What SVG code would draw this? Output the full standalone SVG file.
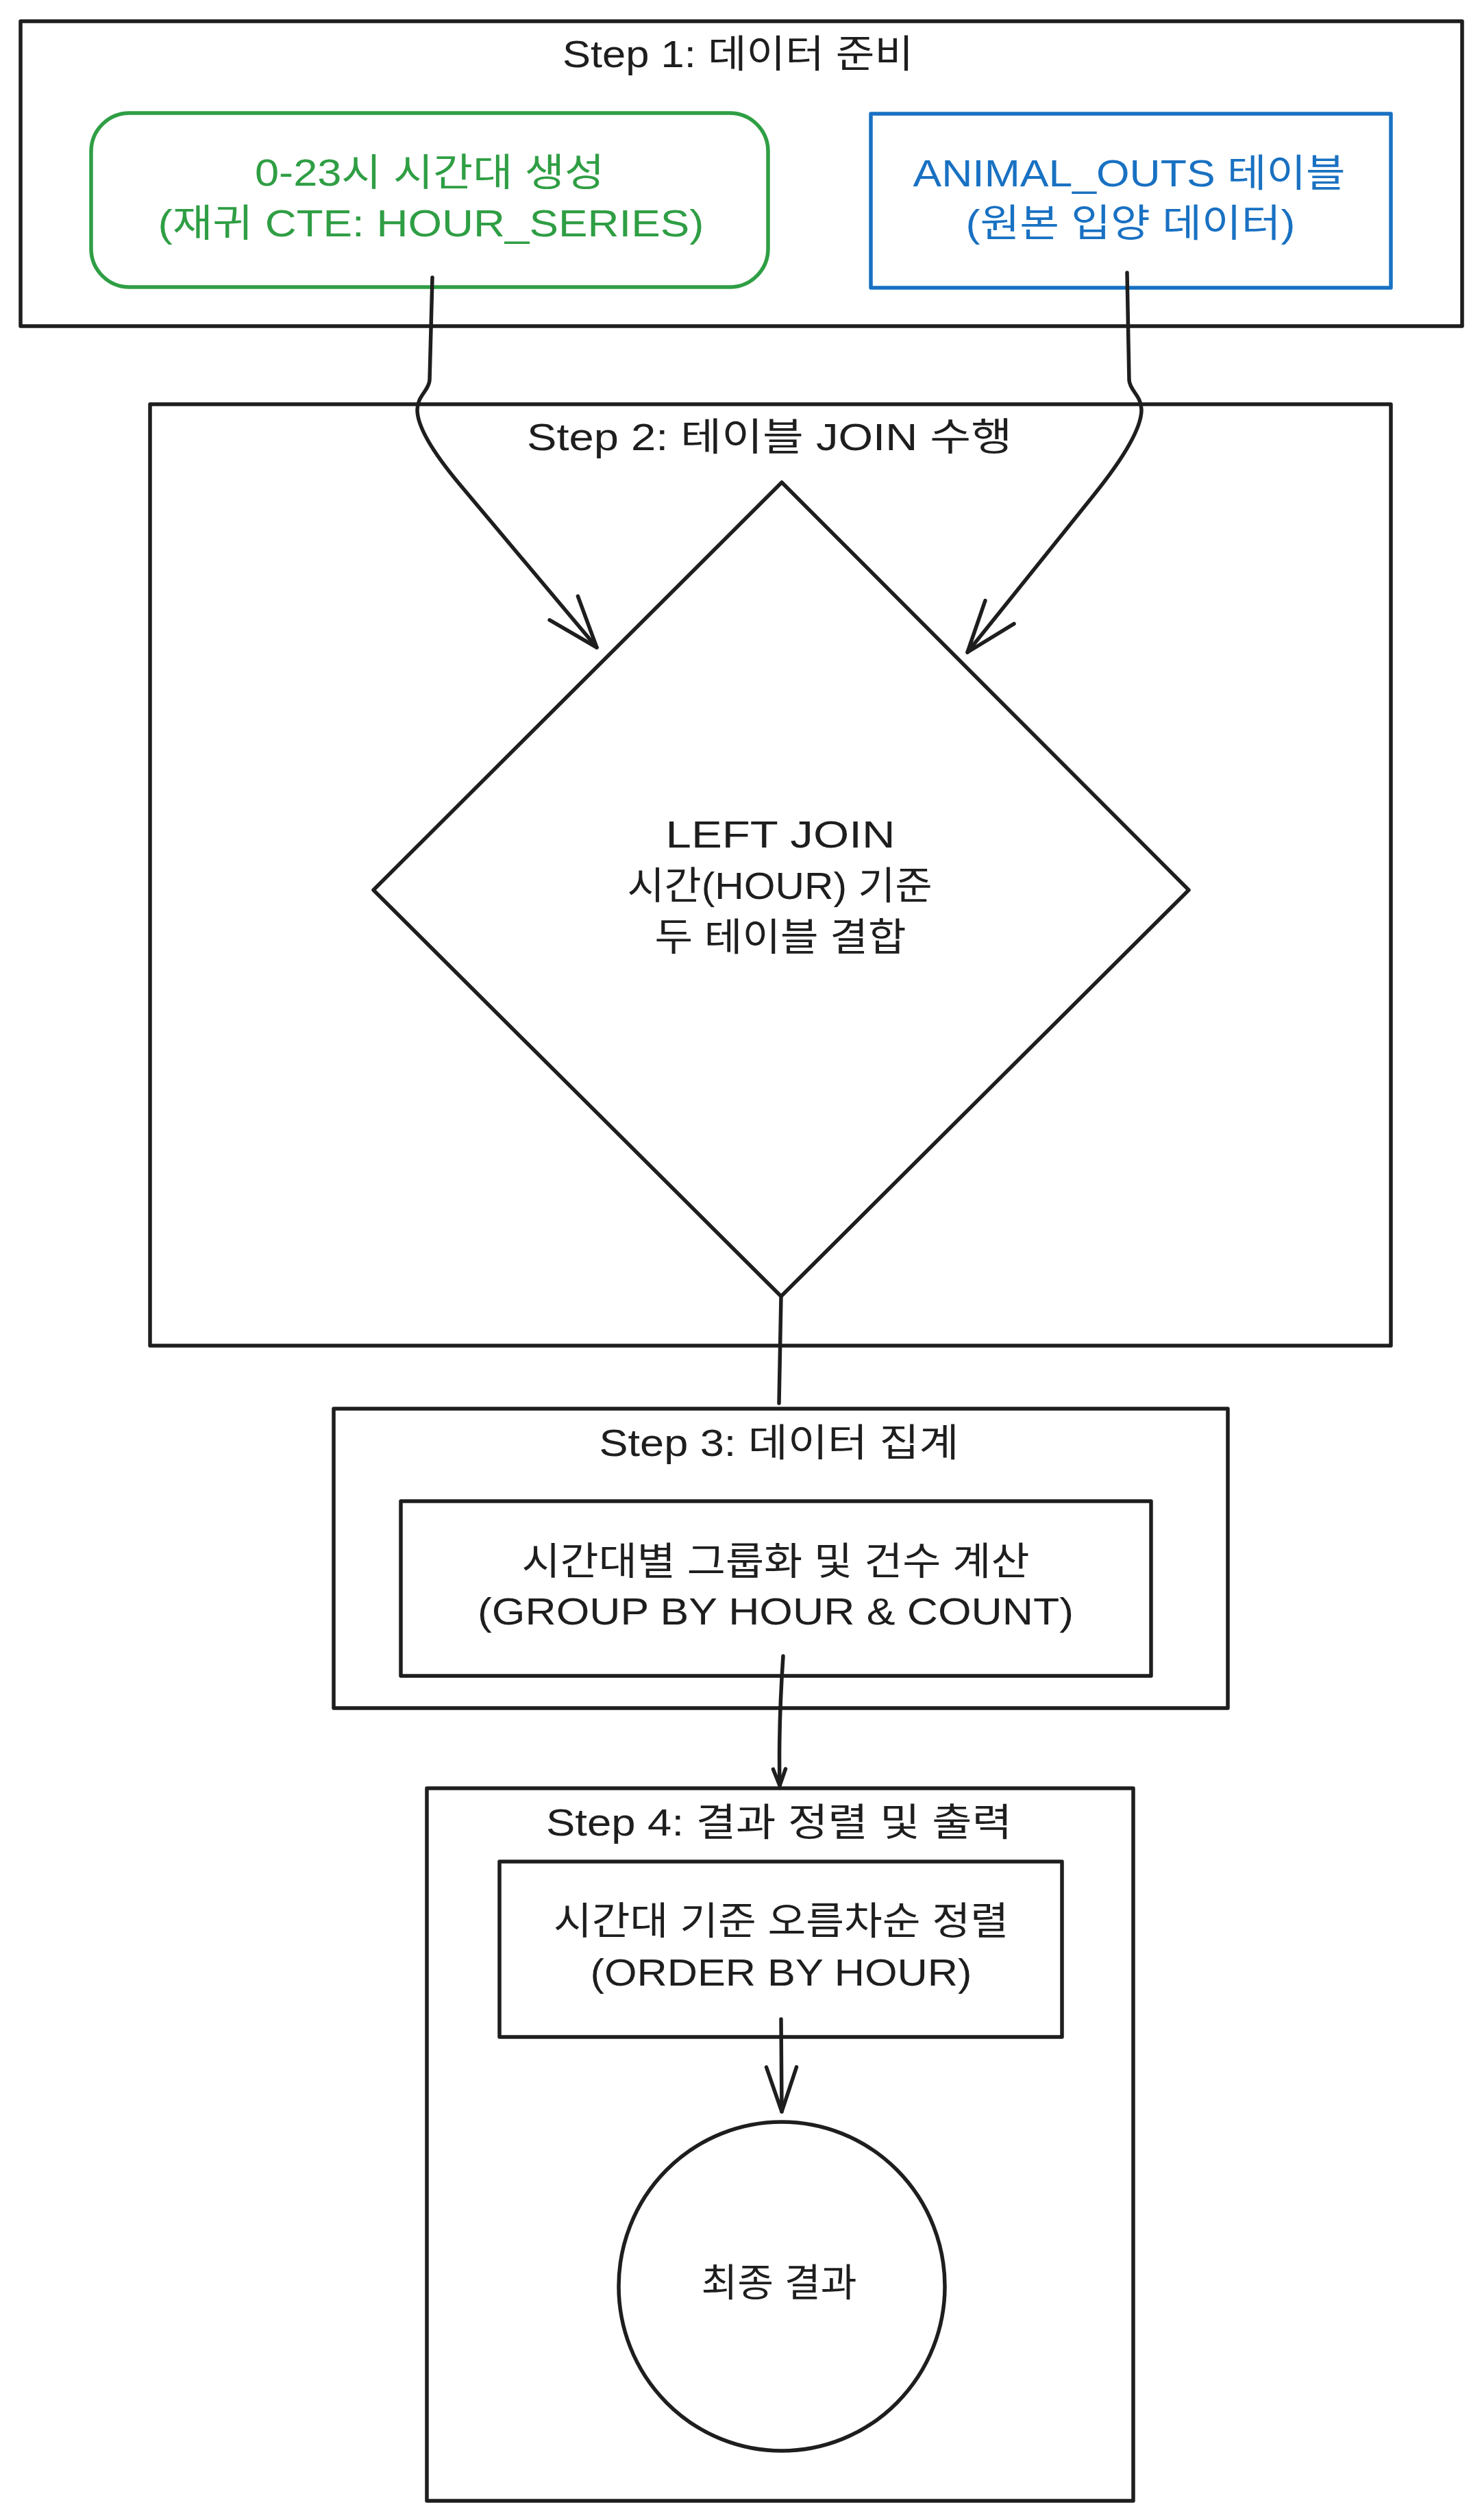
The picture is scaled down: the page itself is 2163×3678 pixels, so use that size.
<svg xmlns="http://www.w3.org/2000/svg" width="2163" height="3678" viewBox="0 0 2163 3678">
<style>
.box{fill:none;stroke:#1e1e1e;stroke-width:5.5;stroke-linejoin:round;stroke-linecap:round}
.t{font-family:"Liberation Sans","Noto Sans CJK KR",sans-serif;font-size:56px;text-anchor:middle;fill:#1e1e1e}
.g{fill:#2f9e44}
.b{fill:#1971c2}
.c{fill:none;stroke:#1e1e1e;stroke-width:5.5;stroke-linecap:round;stroke-linejoin:round}
</style>
<defs>
<marker id="ah" markerUnits="userSpaceOnUse" orient="auto" refX="0" refY="0" markerWidth="10" markerHeight="10" overflow="visible">
<path d="M -75 -27 L 0 0 L -75 27" fill="none" stroke="#1e1e1e" stroke-width="5.5" stroke-linecap="round" stroke-linejoin="round"/>
</marker>
<marker id="ahm" markerUnits="userSpaceOnUse" orient="auto" refX="0" refY="0" markerWidth="10" markerHeight="10" overflow="visible">
<path d="M -65 -22 L 0 0 L -65 22" fill="none" stroke="#1e1e1e" stroke-width="5.5" stroke-linecap="round" stroke-linejoin="round"/>
</marker>
<marker id="ahs" markerUnits="userSpaceOnUse" orient="auto" refX="0" refY="0" markerWidth="10" markerHeight="10" overflow="visible">
<path d="M -24 -9 L 0 0 L -24 9" fill="none" stroke="#1e1e1e" stroke-width="5.5" stroke-linecap="round" stroke-linejoin="round"/>
</marker>
</defs>
<rect x="0" y="0" width="2163" height="3678" fill="#ffffff"/>

<g id="node-step1">
<rect class="box" x="30" y="31" width="2104" height="445"/>
<text class="t" x="1077" y="98" textLength="512" lengthAdjust="spacingAndGlyphs">Step 1: 데이터 준비</text>
</g>
<g id="node-hour-series">
<rect class="box" x="133" y="165" width="988" height="254" rx="56" ry="56" style="stroke:#2f9e44"/>
<text class="t g" x="627" y="271" textLength="510" lengthAdjust="spacingAndGlyphs">0-23시 시간대 생성</text>
<text class="t g" x="629" y="345" textLength="797" lengthAdjust="spacingAndGlyphs">(재귀 CTE: HOUR_SERIES)</text>
</g>
<g id="node-animal-outs">
<rect class="box" x="1271" y="166" width="759" height="254" style="stroke:#1971c2"/>
<text class="t b" x="1648" y="272" textLength="631" lengthAdjust="spacingAndGlyphs">ANIMAL_OUTS 테이블</text>
<text class="t b" x="1650" y="345" textLength="481" lengthAdjust="spacingAndGlyphs">(원본 입양 데이터)</text>
</g>

<g id="node-step2">
<rect class="box" x="219" y="590" width="1811" height="1374"/>
<text class="t" x="1123" y="657" textLength="708" lengthAdjust="spacingAndGlyphs">Step 2: 테이블 JOIN 수행</text>
</g>
<g id="node-join">
<path class="box" d="M 1141 704 L 1735 1299 L 1140 1892 L 545 1299 Z"/>
<text class="t" x="1139" y="1237" textLength="335" lengthAdjust="spacingAndGlyphs">LEFT JOIN</text>
<text class="t" x="1138" y="1312" textLength="445" lengthAdjust="spacingAndGlyphs">시간(HOUR) 기준</text>
<text class="t" x="1139" y="1387" textLength="367" lengthAdjust="spacingAndGlyphs">두 테이블 결합</text>
</g>

<g id="node-step3">
<rect class="box" x="487" y="2056" width="1305" height="437"/>
<text class="t" x="1137" y="2125" textLength="525" lengthAdjust="spacingAndGlyphs">Step 3: 데이터 집계</text>
</g>
<g id="node-group-count">
<rect class="box" x="585" y="2191" width="1095" height="255"/>
<text class="t" x="1132" y="2298" textLength="741" lengthAdjust="spacingAndGlyphs">시간대별 그룹화 및 건수 계산</text>
<text class="t" x="1132" y="2371" textLength="870" lengthAdjust="spacingAndGlyphs">(GROUP BY HOUR &amp; COUNT)</text>
</g>

<g id="node-step4">
<rect class="box" x="623" y="2610" width="1031" height="1040"/>
<text class="t" x="1137" y="2679" textLength="680" lengthAdjust="spacingAndGlyphs">Step 4: 결과 정렬 및 출력</text>
</g>
<g id="node-order">
<rect class="box" x="729" y="2717" width="821" height="256"/>
<text class="t" x="1140" y="2823" textLength="664" lengthAdjust="spacingAndGlyphs">시간대 기준 오름차순 정렬</text>
<text class="t" x="1140" y="2898" textLength="557" lengthAdjust="spacingAndGlyphs">(ORDER BY HOUR)</text>
</g>
<g id="node-result">
<ellipse class="box" cx="1141" cy="3337" rx="238" ry="240"/>
<text class="t" x="1137" y="3351" textLength="227" lengthAdjust="spacingAndGlyphs">최종 결과</text>
</g>

<g id="connectors">
<path class="c" d="M 631 405 L 627 555 C 626 570 609 578 609 598 Q 609 633 671 707 L 871 945" marker-end="url(#ah)"/>
<path class="c" d="M 1645 398 L 1648 555 C 1649 570 1666 578 1666 598 Q 1666 636 1596 723 L 1412 952" marker-end="url(#ah)"/>
<path class="c" d="M 1140 1892 L 1137 2048"/>
<path class="c" d="M 1143 2417 Q 1136 2520 1138 2606" marker-end="url(#ahs)"/>
<path class="c" d="M 1140 2947 L 1141 3082" marker-end="url(#ahm)"/>
</g>
</svg>
